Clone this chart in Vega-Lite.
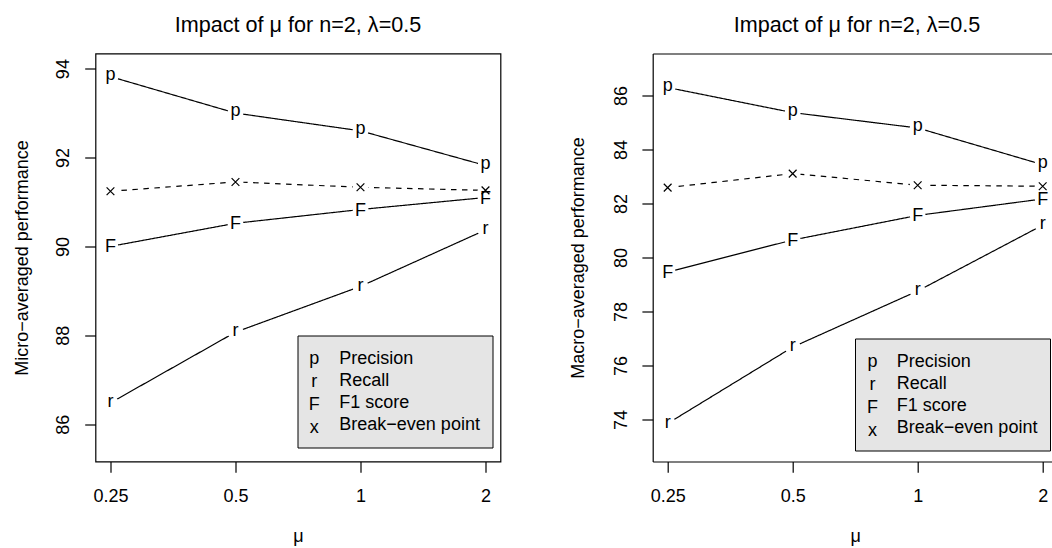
{
  "$schema": "https://vega.github.io/schema/vega-lite/v6.json",
  "padding": {"left": 12.5, "top": 13.5, "right": 0, "bottom": 0},
  "background": "white",
  "config": {
    "font": "Liberation Sans",
    "view": {"stroke": "black", "strokeWidth": 1.2},
    "axis": {"domain": false, "grid": false, "ticks": true, "tickColor": "black", "tickWidth": 1.2, "domainColor": "black", "domainWidth": 1.2,
      "labelFont": "Liberation Sans", "labelFontSize": 18, "labelColor": "black", "labelFlush": false, "labelOverlap": false,
      "titleFont": "Liberation Sans", "titleFontSize": 18, "titleFontWeight": "normal", "titleColor": "black"},
    "legend": {"labelFont": "Liberation Sans", "labelFontSize": 18, "labelColor": "black", "labelLimit": 400}
  },
  "datasets": {
    "micro": [
      {"mu": 0.25, "sym": "p", "measure": "Precision", "value": 93.82},
      {"mu": 0.5, "sym": "p", "measure": "Precision", "value": 93.0},
      {"mu": 1, "sym": "p", "measure": "Precision", "value": 92.6},
      {"mu": 2, "sym": "p", "measure": "Precision", "value": 91.82},
      {"mu": 0.25, "sym": "r", "measure": "Recall", "value": 86.48},
      {"mu": 0.5, "sym": "r", "measure": "Recall", "value": 88.07},
      {"mu": 1, "sym": "r", "measure": "Recall", "value": 89.1},
      {"mu": 2, "sym": "r", "measure": "Recall", "value": 90.37},
      {"mu": 0.25, "sym": "F", "measure": "F1 score", "value": 90.0},
      {"mu": 0.5, "sym": "F", "measure": "F1 score", "value": 90.52},
      {"mu": 1, "sym": "F", "measure": "F1 score", "value": 90.83},
      {"mu": 2, "sym": "F", "measure": "F1 score", "value": 91.1},
      {"mu": 0.25, "sym": "x", "measure": "Break−even point", "value": 91.24},
      {"mu": 0.5, "sym": "x", "measure": "Break−even point", "value": 91.45},
      {"mu": 1, "sym": "x", "measure": "Break−even point", "value": 91.33},
      {"mu": 2, "sym": "x", "measure": "Break−even point", "value": 91.26}
    ],
    "macro": [
      {"mu": 0.25, "sym": "p", "measure": "Precision", "value": 86.3},
      {"mu": 0.5, "sym": "p", "measure": "Precision", "value": 85.37},
      {"mu": 1, "sym": "p", "measure": "Precision", "value": 84.8},
      {"mu": 2, "sym": "p", "measure": "Precision", "value": 83.44},
      {"mu": 0.25, "sym": "r", "measure": "Recall", "value": 73.85},
      {"mu": 0.5, "sym": "r", "measure": "Recall", "value": 76.68},
      {"mu": 1, "sym": "r", "measure": "Recall", "value": 78.76},
      {"mu": 2, "sym": "r", "measure": "Recall", "value": 81.2},
      {"mu": 0.25, "sym": "F", "measure": "F1 score", "value": 79.46},
      {"mu": 0.5, "sym": "F", "measure": "F1 score", "value": 80.65},
      {"mu": 1, "sym": "F", "measure": "F1 score", "value": 81.56},
      {"mu": 2, "sym": "F", "measure": "F1 score", "value": 82.17},
      {"mu": 0.25, "sym": "x", "measure": "Break−even point", "value": 82.59},
      {"mu": 0.5, "sym": "x", "measure": "Break−even point", "value": 83.11},
      {"mu": 1, "sym": "x", "measure": "Break−even point", "value": 82.68},
      {"mu": 2, "sym": "x", "measure": "Break−even point", "value": 82.64}
    ]
  },
  "bounds": "flush",
  "spacing": 152.2,
  "resolve": {
    "scale": {"color": "independent", "strokeDash": "independent"},
    "legend": {"color": "independent", "strokeDash": "independent"}
  },
  "hconcat": [
    {
      "data": {"name": "micro"},
      "width": 405,
      "height": 408,
      "title": {"text": "Impact of μ for n=2, λ=0.5", "fontSize": 21.6, "fontWeight": "normal", "font": "Liberation Sans", "color": "black", "baseline": "alphabetic", "offset": 0, "anchor": "middle", "frame": "group"},
      "encoding": {
        "x": {"field": "mu", "type": "quantitative",
          "scale": {"type": "log", "base": 2, "domain": [0.23008, 2.17347], "nice": false},
          "axis": {"values": [0.25, 0.5, 1, 2], "format": "~g", "title": "μ", "tickSize": 10.8, "labelPadding": 29.2, "labelBaseline": "alphabetic", "titleY": 80, "titleBaseline": "alphabetic"}},
        "y": {"field": "value", "type": "quantitative",
          "scale": {"domain": [85.16, 94.34], "nice": false, "zero": false},
          "axis": {"values": [86, 88, 90, 92, 94], "title": "Micro−averaged performance", "tickSize": 10.8, "labelAngle": -90, "labelAlign": "center", "labelBaseline": "alphabetic", "labelPadding": 15.9, "titleX": -68.2, "titleY": 204, "titleAngle": -90, "titleAlign": "center", "titleBaseline": "alphabetic"}}
      },
      "layer": [
        {"mark": {"type": "line", "strokeWidth": 1.2},
          "encoding": {
            "color": {"field": "sym", "type": "nominal", "scale": {"domain": ["p", "r", "F", "x"], "range": ["black", "black", "black", "black"]},
              "legend": {"orient": "none", "legendX": 183.8, "legendY": 282, "title": null, "padding": 12, "rowPadding": 0, "symbolType": "circle", "symbolOpacity": 0, "symbolSize": 462, "labelOffset": 0, "labelAlign": "center", "zindex": 2}},
            "strokeDash": {"field": "measure", "type": "nominal", "scale": {"domain": ["Precision", "Recall", "F1 score", "Break−even point"], "range": [[1, 0], [1, 0], [1, 0], [5.5, 5.5]]},
              "legend": {"orient": "none", "legendX": 202, "legendY": 282, "title": null, "padding": 12, "rowPadding": 0, "symbolType": "circle", "symbolOpacity": 0, "symbolSize": 462, "symbolStrokeWidth": 0, "labelOffset": 7.8, "fillColor": "#e5e5e5", "strokeColor": "black", "zindex": 1}}
          }},
        {"mark": {"type": "point", "shape": "circle", "filled": true, "color": "white", "opacity": 1, "size": 254, "clip": true}},
        {"transform": [{"filter": "datum.sym == 'p'"}], "mark": {"type": "text", "fontSize": 18, "font": "Liberation Sans", "baseline": "middle", "align": "center", "dy": -2, "color": "black"}, "encoding": {"text": {"field": "sym"}}},
        {"transform": [{"filter": "datum.sym == 'r'"}], "mark": {"type": "text", "fontSize": 18, "font": "Liberation Sans", "baseline": "middle", "align": "center", "dy": -0.75, "color": "black"}, "encoding": {"text": {"field": "sym"}}},
        {"transform": [{"filter": "datum.sym == 'F'"}], "mark": {"type": "text", "fontSize": 18, "font": "Liberation Sans", "baseline": "middle", "align": "center", "dy": 1, "color": "black"}, "encoding": {"text": {"field": "sym"}}},
        {"transform": [{"filter": "datum.sym == 'x'"}], "mark": {"type": "point", "shape": "M-1,-1L1,1M-1,1L1,-1", "filled": false, "color": "black", "strokeWidth": 1.2, "size": 60, "opacity": 1}}
      ]
    },
    {
      "data": {"name": "macro"},
      "width": 399,
      "height": 408,
      "view": {"stroke": null},
      "title": {"text": "Impact of μ for n=2, λ=0.5", "fontSize": 21.6, "fontWeight": "normal", "font": "Liberation Sans", "color": "black", "baseline": "alphabetic", "offset": 0, "anchor": "start", "dx": 81, "frame": "group"},
      "encoding": {
        "x": {"field": "mu", "type": "quantitative",
          "scale": {"type": "log", "base": 2, "domain": [0.23008, 2.1024], "nice": false},
          "axis": null},
        "y": {"field": "value", "type": "quantitative",
          "scale": {"domain": [72.44, 87.56], "nice": false, "zero": false},
          "axis": {"values": [74, 76, 78, 80, 82, 84, 86], "title": "Macro−averaged performance", "tickSize": 10.8, "labelAngle": -90, "labelAlign": "center", "labelBaseline": "alphabetic", "labelPadding": 15.9, "titleX": -69, "titleY": 204, "titleAngle": -90, "titleAlign": "center", "titleBaseline": "alphabetic", "domain": true}}
      },
      "layer": [
        {"mark": {"type": "line", "strokeWidth": 1.2},
          "encoding": {
            "x": {"field": "mu", "type": "quantitative",
              "scale": {"type": "log", "base": 2, "domain": [0.23008, 2.1024], "nice": false},
              "axis": {"orient": "bottom", "values": [0.25, 0.5, 1, 2], "format": "~g", "title": "μ", "tickSize": 10.8, "labelPadding": 29.2, "labelBaseline": "alphabetic", "titleX": 202.5, "titleY": 80, "titleBaseline": "alphabetic", "domain": true}},
            "color": {"field": "sym", "type": "nominal", "scale": {"domain": ["p", "r", "F", "x"], "range": ["black", "black", "black", "black"]},
              "legend": {"orient": "none", "legendX": 184.8, "legendY": 285, "title": null, "padding": 12, "rowPadding": 0, "symbolType": "circle", "symbolOpacity": 0, "symbolSize": 462, "labelOffset": 0, "labelAlign": "center", "zindex": 2}},
            "strokeDash": {"field": "measure", "type": "nominal", "scale": {"domain": ["Precision", "Recall", "F1 score", "Break−even point"], "range": [[1, 0], [1, 0], [1, 0], [5.5, 5.5]]},
              "legend": {"orient": "none", "legendX": 202.3, "legendY": 285, "title": null, "padding": 12, "rowPadding": 0, "symbolType": "circle", "symbolOpacity": 0, "symbolSize": 462, "symbolStrokeWidth": 0, "labelOffset": 7.8, "fillColor": "#e5e5e5", "strokeColor": "black", "zindex": 1}}
          }},
        {"mark": {"type": "point", "shape": "circle", "filled": true, "color": "white", "opacity": 1, "size": 254, "clip": true},
          "encoding": {
            "x": {"field": "mu", "type": "quantitative",
              "scale": {"type": "log", "base": 2, "domain": [0.23008, 2.1024], "nice": false},
              "axis": {"orient": "top", "labels": false, "ticks": false, "domain": true, "title": null}}}},
        {"transform": [{"filter": "datum.sym == 'p'"}], "mark": {"type": "text", "fontSize": 18, "font": "Liberation Sans", "baseline": "middle", "align": "center", "dy": -2, "color": "black"}, "encoding": {"text": {"field": "sym"}}},
        {"transform": [{"filter": "datum.sym == 'r'"}], "mark": {"type": "text", "fontSize": 18, "font": "Liberation Sans", "baseline": "middle", "align": "center", "dy": -0.75, "color": "black"}, "encoding": {"text": {"field": "sym"}}},
        {"transform": [{"filter": "datum.sym == 'F'"}], "mark": {"type": "text", "fontSize": 18, "font": "Liberation Sans", "baseline": "middle", "align": "center", "dy": 1, "color": "black"}, "encoding": {"text": {"field": "sym"}}},
        {"transform": [{"filter": "datum.sym == 'x'"}], "mark": {"type": "point", "shape": "M-1,-1L1,1M-1,1L1,-1", "filled": false, "color": "black", "strokeWidth": 1.2, "size": 60, "opacity": 1}}
      ]
    }
  ]
}
